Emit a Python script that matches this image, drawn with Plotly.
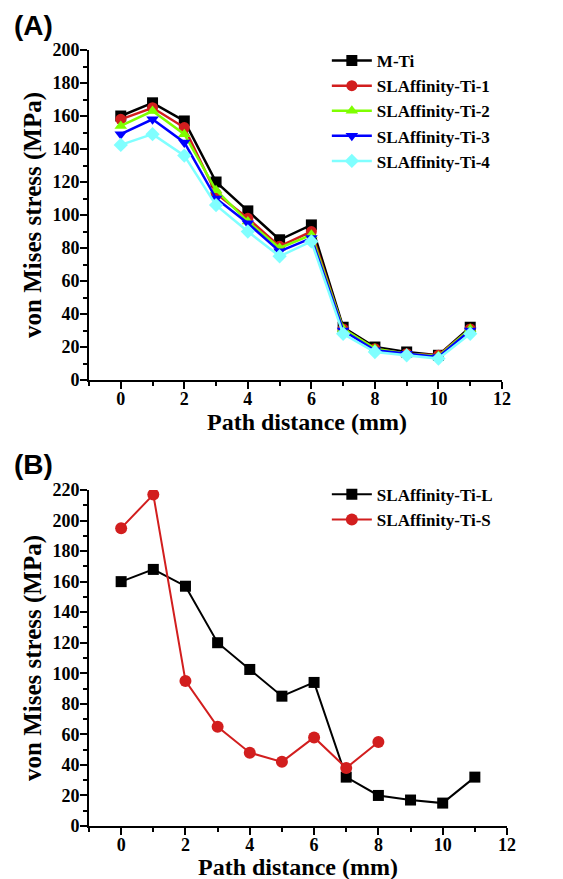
import plotly.graph_objects as go
from plotly.subplots import make_subplots

dist = [0, 1, 2, 3, 4, 5, 6, 7, 8, 9, 10, 11]
m_ti = [160, 168, 157, 120, 102.5, 85, 94, 32, 20, 17, 15, 32]
ti_1 = [158, 165, 153, 113, 98, 81, 90, 31, 19, 16, 15, 31]
ti_2 = [154, 163, 149, 115, 96, 80, 88, 31, 19, 16, 14.5, 31]
ti_3 = [149, 158, 144, 110, 95, 78, 86, 30, 18, 16, 14, 30]
ti_4 = [142.5, 149, 136, 106, 90, 75, 84, 28, 17, 15, 13, 28]

dist_s = [0, 1, 2, 3, 4, 5, 6, 7, 8]
ti_l = [160, 168, 157, 120, 102.5, 85, 94, 32, 20, 17, 15, 32]
ti_s = [195, 217, 95, 65, 48, 42, 58, 38, 55]

serif = "Liberation Serif"

fig = make_subplots(rows=2, cols=1)

series_a = [
    ("M-Ti", m_ti, "black", "square"),
    ("SLAffinity-Ti-1", ti_1, "#d21e1e", "circle"),
    ("SLAffinity-Ti-2", ti_2, "#7fff00", "triangle-up"),
    ("SLAffinity-Ti-3", ti_3, "#0000ff", "triangle-down"),
    ("SLAffinity-Ti-4", ti_4, "#80ffff", "diamond"),
]
for name, vals, col, sym in series_a:
    fig.add_trace(
        go.Scatter(
        x=dist,
        y=vals,
        mode="lines+markers",
        name=name,
        line=dict(color=col, width=2.5),
        marker=dict(color=col, symbol=sym, size=11),
        legend="legend"), row=1, col=1
    )

fig.add_trace(
    go.Scatter(
    x=dist,
    y=ti_l,
    mode="lines+markers",
    name="SLAffinity-Ti-L",
    line=dict(color="black", width=2),
    marker=dict(color="black", symbol="square", size=11),
    legend="legend2"), row=2, col=1
)
fig.add_trace(
    go.Scatter(
    x=dist_s,
    y=ti_s,
    mode="lines+markers",
    name="SLAffinity-Ti-S",
    line=dict(color="#d21e1e", width=2),
    marker=dict(color="#d21e1e", symbol="circle", size=12),
    legend="legend2"), row=2, col=1
)

axis_common = dict(
    showline=True, linewidth=2, linecolor="black", mirror=False,
    showgrid=False, zeroline=False, automargin=False,
    ticks="outside", ticklen=7, tickwidth=2, tickcolor="black",
    tickfont=dict(family=serif, size=18, color="black", weight="bold"),
)
fig.update_xaxes(
    **axis_common, range=[-1, 12], dtick=2, tick0=0, ticklabelstandoff=-6,
    minor=dict(ticks="outside", ticklen=4, tickwidth=2, dtick=1, tickcolor="black"),
)
fig.update_yaxes(
    **axis_common, dtick=20, tick0=0, ticklabelstandoff=-3,
    minor=dict(ticks="outside", ticklen=4, tickwidth=2, dtick=10, tickcolor="black"),
    title=dict(text="von Mises stress (MPa)", standoff=4,
               font=dict(family=serif, size=25, color="black", weight="bold")),
)
fig.update_yaxes(range=[0, 200], row=1, col=1)
fig.update_yaxes(range=[0, 220], row=2, col=1)
fig.update_xaxes(domain=[0, 0.988], row=1, col=1)
fig.update_xaxes(domain=[0, 1], row=2, col=1)
fig.update_yaxes(domain=[0.5747, 1.0], row=1, col=1)
fig.update_yaxes(domain=[0, 0.433], row=2, col=1)

# x titles as annotations so they can sit just under the tick labels
title_font = dict(family=serif, size=24, color="black", weight="bold")
panel_font = dict(family="Liberation Sans", size=28, color="black", weight="bold")

# page adds an 8px body margin, so the figure is 8px smaller than the window
legend_font = dict(family=serif, size=17, color="black", weight="bold")
fig.update_layout(
    template="none",
    width=555, height=871,
    margin=dict(l=81, r=56, t=42, b=53),
    paper_bgcolor="white", plot_bgcolor="white",
    legend=dict(x=0.569, y=1.009, xanchor="left", yanchor="top", font=legend_font,
                bgcolor="rgba(0,0,0,0)", tracegroupgap=0, itemwidth=40),
    legend2=dict(x=0.569, y=0.45, xanchor="left", yanchor="top", font=legend_font,
                 bgcolor="rgba(0,0,0,0)", itemwidth=40),
    annotations=[
        dict(text="Path distance (mm)", x=0.522, y=0.5206, xref="paper", yref="paper",
             showarrow=False, xanchor="center", yanchor="middle", font=title_font),
        dict(text="Path distance (mm)", x=0.5, y=-0.0528, xref="paper", yref="paper",
             showarrow=False, xanchor="center", yanchor="middle", font=title_font),
        dict(text="(A)", x=-0.184, y=1.054, xref="paper", yref="paper", showarrow=False,
             xanchor="left", yanchor="top", font=panel_font),
        dict(text="(B)", x=-0.184, y=0.488, xref="paper", yref="paper", showarrow=False,
             xanchor="left", yanchor="top", font=panel_font),
    ],
)

fig.write_html("out.html")
